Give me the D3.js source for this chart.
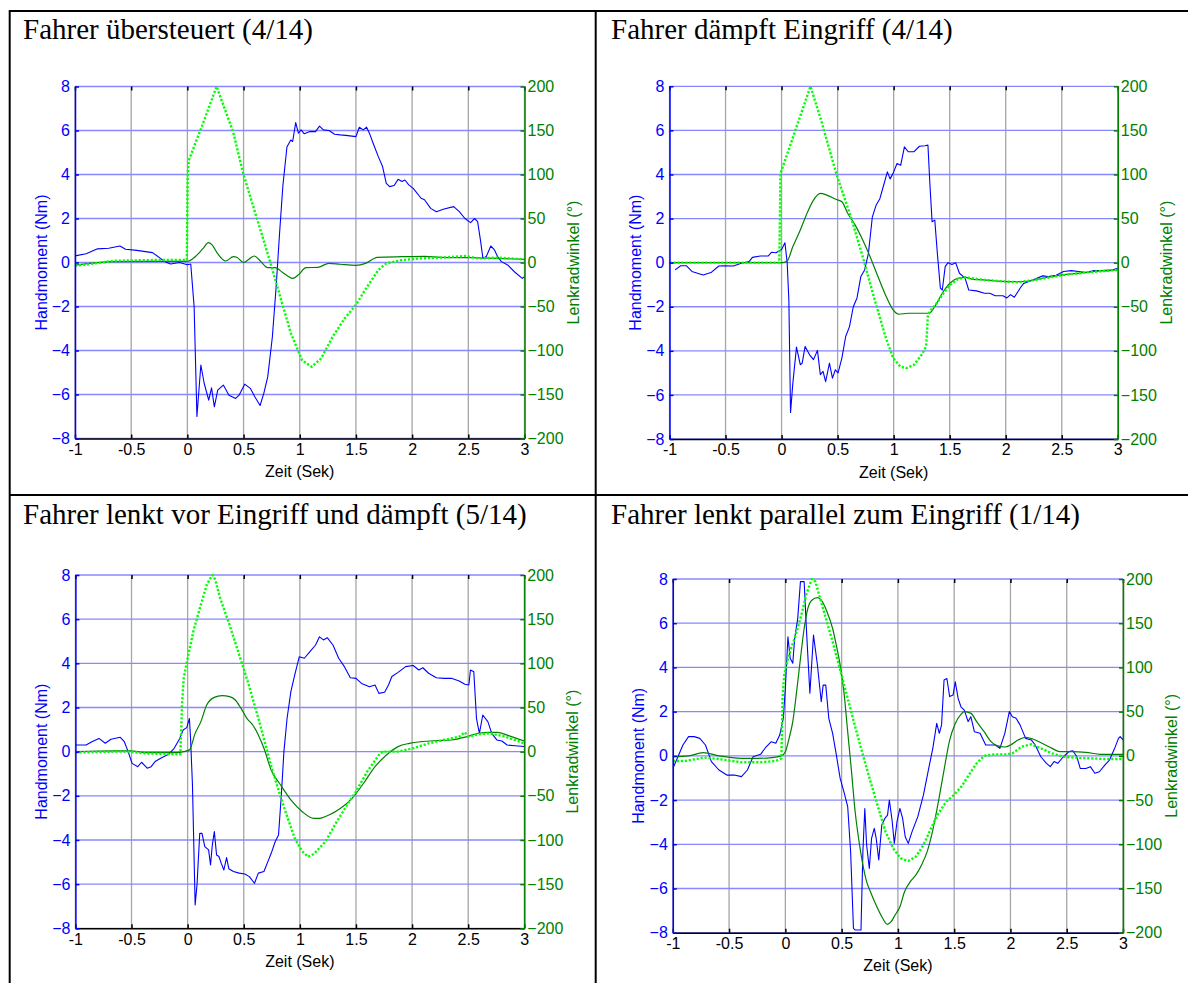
<!DOCTYPE html>
<html>
<head>
<meta charset="utf-8">
<script src="https://cdn.jsdelivr.net/npm/d3@7"></script>
<style>
  body { margin: 0; background: #fff; }
  svg { display: block; }
</style>
</head>
<body>
<svg id="chart" width="1188" height="983"></svg>
<script>
// ---- Texts and ticks -------------------------------------------------------
const titles = [
  "Fahrer übersteuert (4/14)",
  "Fahrer dämpft Eingriff (4/14)",
  "Fahrer lenkt vor Eingriff und dämpft (5/14)",
  "Fahrer lenkt parallel zum Eingriff (1/14)"
];
const xLabel = "Zeit (Sek)";
const leftLabel = "Handmoment (Nm)";
const rightLabel = "Lenkradwinkel (°)";
const timeTicks = [-1, -0.5, 0, 0.5, 1, 1.5, 2, 2.5, 3];
const timeTickLabels = ["-1", "-0.5", "0", "0.5", "1", "1.5", "2", "2.5", "3"];
const momentTicks = [-8, -6, -4, -2, 0, 2, 4, 6, 8];
const angleTicks = [-200, -150, -100, -50, 0, 50, 100, 150, 200];

// ---- Series: [time s, value] ----------------------------------------------
// Handmoment (Nm), Lenkradwinkel Fahrer (°), Lenkradwinkel Eingriff (°)
const p1Moment = [[-1,0.3],[-0.9,0.4],[-0.8,0.62],[-0.7,0.65],[-0.6,0.75],[-0.55,0.6],[-0.45,0.55],[-0.31,0.45],[-0.2,0.04],[-0.15,-0.07],[-0.07,0],[0,-0.1],[0.03,-0.07],[0.06,-2],[0.085,-7.0],[0.12,-4.66],[0.15,-5.5],[0.19,-6.26],[0.215,-5.7],[0.24,-6.56],[0.27,-5.8],[0.32,-5.57],[0.37,-6.03],[0.43,-6.18],[0.46,-6.03],[0.51,-5.53],[0.56,-5.72],[0.6,-6.1],[0.647,-6.5],[0.68,-5.95],[0.715,-5.2],[0.756,-3.4],[0.79,-1.1],[0.82,1.3],[0.85,3.5],[0.886,5.25],[0.92,5.57],[0.937,5.5],[0.964,6.36],[0.988,5.88],[1.012,6.03],[1.04,5.85],[1.09,5.95],[1.14,5.95],[1.176,6.2],[1.21,6.03],[1.26,6.0],[1.31,5.83],[1.36,5.8],[1.41,5.78],[1.5,5.72],[1.53,6.15],[1.565,6.03],[1.595,6.15],[1.62,5.88],[1.653,5.42],[1.70,4.8],[1.737,4.36],[1.77,3.6],[1.8,3.45],[1.84,3.5],[1.875,3.78],[1.91,3.68],[1.936,3.75],[1.97,3.53],[2.01,3.37],[2.08,2.92],[2.11,2.85],[2.165,2.46],[2.216,2.31],[2.284,2.43],[2.37,2.54],[2.42,2.31],[2.47,2.0],[2.52,1.81],[2.556,2.0],[2.583,1.86],[2.608,1.02],[2.63,0.19],[2.66,0.27],[2.7,0.75],[2.733,0.57],[2.76,0.27],[2.795,0.04],[2.85,-0.11],[2.91,-0.42],[2.98,-0.72],[3,-0.65]];
const p1Steer = [[-1,-3],[-0.65,1],[-0.31,1.3],[0,1.3],[0.07,6.6],[0.14,16],[0.187,22.5],[0.22,20],[0.27,10],[0.34,1.7],[0.41,6.6],[0.44,6],[0.5,0],[0.545,3.5],[0.596,7.4],[0.647,2],[0.715,-5.9],[0.783,-5.9],[0.85,-11.6],[0.937,-18],[0.988,-14],[1.056,-5.9],[1.16,-5.5],[1.26,-1],[1.36,-2],[1.5,-3.2],[1.585,-1],[1.69,5.9],[1.91,6.6],[2.11,7],[2.26,5.9],[2.49,5.5],[2.76,4.7],[3,3.6]];
const p1Command = [[-1,-3.6],[-0.82,-1],[-0.65,2],[-0.3,2.8],[-0.005,2.8],[0.003,100],[0.012,116],[0.127,154],[0.26,200],[0.408,148],[0.497,101],[0.614,52],[0.72,8],[0.817,-35],[0.92,-80],[1.02,-111],[1.107,-118.5],[1.19,-109],[1.295,-84],[1.397,-64],[1.5,-48],[1.6,-27.5],[1.70,-8.5],[1.77,-1],[1.91,2.8],[2.08,4.7],[2.25,5.5],[2.47,7.4],[2.59,4.7],[2.76,5.5],[3,3.6]];

const p2Moment = [[-0.95,-0.33],[-0.9,-0.14],[-0.85,-0.14],[-0.8,-0.4],[-0.7,-0.56],[-0.63,-0.45],[-0.56,-0.15],[-0.51,-0.14],[-0.43,-0.15],[-0.36,-0.03],[-0.29,0.05],[-0.26,0.24],[-0.19,0.3],[-0.12,0.3],[-0.09,0.47],[-0.05,0.45],[0,0.6],[0.03,0.9],[0.05,0],[0.065,-1.7],[0.08,-6.8],[0.1,-5.5],[0.133,-3.83],[0.167,-4.63],[0.184,-4.56],[0.21,-3.8],[0.25,-4.18],[0.285,-4.4],[0.32,-3.98],[0.346,-5.08],[0.37,-4.93],[0.393,-5.4],[0.427,-4.56],[0.454,-5.24],[0.48,-4.86],[0.504,-5.0],[0.538,-4.33],[0.572,-3.35],[0.606,-2.9],[0.64,-2.0],[0.673,-1.6],[0.707,-0.63],[0.741,-0.33],[0.775,0.42],[0.81,2.08],[0.843,2.6],[0.877,2.9],[0.91,3.5],[0.944,4.12],[0.968,3.8],[0.995,4.05],[1.03,4.5],[1.063,4.42],[1.096,5.25],[1.13,5.03],[1.18,5.03],[1.23,5.28],[1.28,5.3],[1.306,5.33],[1.323,3.6],[1.343,1.86],[1.367,1.93],[1.39,0.42],[1.417,-1.16],[1.434,-1.24],[1.46,-0.18],[1.485,0],[1.52,-0.08],[1.553,0],[1.587,-0.48],[1.637,-0.7],[1.67,-1.24],[1.74,-1.28],[1.81,-1.39],[1.857,-1.39],[1.907,-1.5],[1.975,-1.5],[2.01,-1.6],[2.043,-1.45],[2.077,-1.57],[2.128,-1.16],[2.16,-0.94],[2.246,-0.78],[2.33,-0.6],[2.38,-0.63],[2.45,-0.57],[2.516,-0.4],[2.584,-0.36],[2.65,-0.4],[2.72,-0.45],[2.787,-0.36],[2.855,-0.36],[2.92,-0.38],[3,-0.25]];
const p2Steer = [[-1,0],[0,0],[0.05,2],[0.1,18],[0.167,37],[0.217,53],[0.285,71],[0.346,78.5],[0.403,76.6],[0.488,71.7],[0.538,69],[0.59,56],[0.657,42.6],[0.724,25.7],[0.79,6.8],[0.86,-15.8],[0.927,-36.6],[0.995,-53.6],[1.046,-58.5],[1.13,-57.4],[1.23,-57.4],[1.316,-57.4],[1.367,-49.8],[1.434,-34.7],[1.502,-23.4],[1.57,-17.7],[1.637,-16.6],[1.71,-18.9],[1.806,-19.6],[1.908,-20.8],[2.01,-21.5],[2.11,-21.5],[2.21,-20.8],[2.314,-18],[2.45,-15],[2.585,-12.8],[2.72,-11],[2.855,-9],[3,-8.3]];
const p2Command = [[-1,0],[-0.02,0],[-0.01,101],[0.258,200],[0.353,161.5],[0.488,101],[0.623,50],[0.724,6.8],[0.826,-40],[0.927,-84],[0.995,-108],[1.06,-118],[1.113,-119.6],[1.18,-116],[1.25,-104.5],[1.29,-95],[1.306,-59],[1.333,-53.6],[1.384,-46],[1.434,-36.6],[1.502,-25.3],[1.57,-18.9],[1.637,-16.6],[1.806,-19.6],[2.01,-21.5],[2.11,-22.3],[2.314,-18.5],[2.518,-14],[2.72,-11],[3,-8.3]];

const p3Moment = [[-1,0.3],[-0.905,0.3],[-0.853,0.45],[-0.79,0.6],[-0.734,0.38],[-0.683,0.56],[-0.6,0.65],[-0.564,0.45],[-0.53,0],[-0.495,-0.53],[-0.444,-0.68],[-0.41,-0.48],[-0.36,-0.75],[-0.325,-0.68],[-0.29,-0.45],[-0.24,-0.3],[-0.17,-0.12],[-0.12,0.15],[-0.07,0.6],[-0.04,0.98],[-0.008,1.09],[0.016,1.5],[0.026,0.6],[0.043,-1.5],[0.067,-6.94],[0.084,-6.0],[0.108,-3.7],[0.128,-3.7],[0.153,-4.3],[0.187,-4.45],[0.204,-5.13],[0.22,-4.23],[0.238,-3.62],[0.258,-4.68],[0.279,-4.75],[0.299,-5.05],[0.323,-5.36],[0.347,-4.8],[0.367,-5.3],[0.408,-5.43],[0.46,-5.5],[0.51,-5.54],[0.55,-5.66],[0.596,-5.96],[0.63,-5.5],[0.68,-5.43],[0.715,-4.98],[0.75,-4.53],[0.78,-4.08],[0.81,-3.77],[0.835,-1.96],[0.858,0],[0.886,1.5],[0.92,2.72],[0.954,3.47],[0.995,4.3],[1.04,4.23],[1.09,4.53],[1.14,4.83],[1.175,5.2],[1.21,5.06],[1.244,5.16],[1.295,4.83],[1.346,4.23],[1.397,3.85],[1.45,3.35],[1.5,3.32],[1.55,3.09],[1.62,2.94],[1.67,3.02],[1.704,2.64],[1.755,2.69],[1.79,3.02],[1.82,3.4],[1.875,3.59],[1.943,3.85],[2.01,3.9],[2.06,3.7],[2.096,3.8],[2.147,3.55],[2.216,3.35],[2.284,3.32],[2.35,3.32],[2.42,3.2],[2.47,3.05],[2.506,3.02],[2.52,3.7],[2.55,3.62],[2.574,1.5],[2.6,0.83],[2.63,1.66],[2.675,1.36],[2.71,0.83],[2.755,0.53],[2.8,0.48],[2.847,0.3],[2.915,0.27],[3,0.23]];
const p3Steer = [[-1,0],[-0.65,1],[-0.51,1],[-0.375,-1],[-0.1,-1],[-0.035,0],[0.016,2],[0.067,20.7],[0.118,34],[0.17,52.8],[0.238,61.5],[0.306,63.4],[0.374,62.3],[0.425,58.5],[0.476,49],[0.528,37.7],[0.58,30.2],[0.63,18.9],[0.68,3.8],[0.75,-22.6],[0.818,-35.8],[0.92,-54.7],[1.022,-68],[1.124,-75.5],[1.175,-75.5],[1.26,-71.7],[1.363,-64],[1.465,-52.8],[1.568,-35.8],[1.67,-17],[1.772,-3.8],[1.875,5.7],[1.977,9.4],[2.08,11.3],[2.216,12.5],[2.35,13.2],[2.49,17],[2.59,20.8],[2.69,21.9],[2.76,21.9],[2.86,18.1],[3,12]];
const p3Command = [[-1,-1],[-0.65,0],[-0.51,0],[-0.375,-2],[-0.1,-3],[-0.065,-3],[-0.05,53],[-0.035,83],[0,105.7],[0.05,135.8],[0.1,158.5],[0.17,188.7],[0.2,196],[0.222,200],[0.245,195],[0.29,173.6],[0.374,143.4],[0.46,109.4],[0.545,75.5],[0.647,30.2],[0.75,-18.9],[0.852,-60.4],[0.954,-98],[1.022,-113],[1.073,-118.9],[1.124,-116],[1.227,-102],[1.33,-79],[1.43,-58.5],[1.5,-45.3],[1.6,-22.6],[1.704,-3.8],[1.738,0],[1.875,0],[2.01,3.8],[2.147,9.4],[2.284,13.2],[2.42,17],[2.47,21.9],[2.5,17],[2.59,19.6],[2.69,20.8],[2.83,17],[3,9.4]];

const p4Moment = [[-1,-0.57],[-0.96,-0.11],[-0.91,0.49],[-0.86,0.87],[-0.81,0.87],[-0.76,0.79],[-0.71,0.49],[-0.657,-0.26],[-0.59,-0.64],[-0.52,-0.87],[-0.455,-0.87],[-0.39,-0.94],[-0.337,-0.64],[-0.287,-0.04],[-0.22,0.07],[-0.17,0.41],[-0.125,0.64],[-0.085,0.57],[-0.05,0.94],[-0.018,1.7],[0,3.05],[0.023,5.39],[0.043,4.41],[0.066,4.19],[0.083,5.32],[0.11,6.22],[0.134,7.88],[0.167,7.88],[0.19,5.46],[0.218,2.83],[0.25,5.46],[0.285,4.11],[0.319,2.45],[0.336,3.2],[0.359,3.2],[0.386,1.7],[0.42,1.02],[0.453,0.04],[0.487,-1.02],[0.52,-1.62],[0.554,-2.3],[0.58,-4.34],[0.605,-7.8],[0.622,-7.88],[0.672,-7.88],[0.689,-4.34],[0.706,-2.38],[0.722,-4.03],[0.746,-5.09],[0.766,-3.73],[0.79,-3.28],[0.807,-3.73],[0.83,-4.71],[0.857,-3.13],[0.884,-2.83],[0.908,-2.68],[0.924,-2.0],[0.948,-2.9],[0.968,-3.96],[0.992,-2.98],[1.018,-2.38],[1.042,-2.83],[1.065,-3.66],[1.092,-3.96],[1.126,-3.43],[1.177,-2.75],[1.227,-1.77],[1.277,-0.49],[1.31,0.34],[1.345,1.47],[1.368,1.02],[1.388,1.4],[1.41,3.43],[1.435,3.5],[1.46,2.68],[1.49,2.75],[1.51,3.35],[1.535,2.6],[1.56,2.22],[1.59,2.07],[1.624,1.55],[1.648,1.77],[1.68,1.09],[1.73,1.02],[1.78,0.49],[1.83,0.49],[1.866,0.49],[1.906,0.34],[1.95,1.02],[1.99,2.0],[2.017,1.77],[2.05,1.7],[2.085,1.4],[2.135,0.79],[2.185,0.72],[2.22,0.49],[2.27,-0.04],[2.32,-0.34],[2.354,-0.49],[2.388,-0.26],[2.42,-0.34],[2.47,-0.04],[2.52,0.19],[2.555,0.23],[2.59,-0.04],[2.62,-0.57],[2.67,-0.57],[2.71,-0.49],[2.75,-0.79],[2.79,-0.72],[2.84,-0.41],[2.88,-0.19],[2.926,0.34],[2.96,0.79],[2.975,0.87],[3,0.72]];
const p4Steer = [[-1,-1],[-0.86,0],[-0.73,3.6],[-0.59,0],[-0.39,-2.8],[-0.25,-2.8],[-0.12,-2],[-0.035,0],[0,4.7],[0.033,19.8],[0.066,38.6],[0.1,72.6],[0.134,110],[0.167,144],[0.2,166.8],[0.235,176],[0.285,179],[0.32,176],[0.37,163],[0.42,144],[0.453,125],[0.487,102.7],[0.52,72.6],[0.554,27.3],[0.588,-17.9],[0.62,-63],[0.655,-97],[0.689,-123.4],[0.722,-142.3],[0.756,-153.6],[0.806,-168.7],[0.857,-181.9],[0.907,-190.6],[0.94,-187.6],[0.975,-180],[1.018,-170.6],[1.059,-153.6],[1.11,-142.3],[1.16,-134.7],[1.21,-123.4],[1.26,-108.3],[1.31,-83.9],[1.36,-51.8],[1.41,-16],[1.46,17.9],[1.51,36.7],[1.56,46.9],[1.59,50],[1.65,48],[1.7,38.6],[1.766,27.3],[1.83,15.8],[1.88,11.5],[1.95,10],[2.0,12.2],[2.067,17.9],[2.135,20.9],[2.2,19],[2.285,14],[2.37,8.5],[2.437,4.7],[2.54,4.7],[2.67,4],[2.8,1.7],[3,1.7]];
const p4Command = [[-1,-5.8],[-0.89,-5.8],[-0.72,-2],[-0.59,-3.6],[-0.39,-7.3],[-0.22,-7.3],[-0.085,-5.8],[-0.035,-2.8],[-0.025,65],[-0.01,91.4],[0.016,106.5],[0.05,121.6],[0.083,132.9],[0.117,148],[0.15,163],[0.184,181.9],[0.235,200],[0.268,197],[0.3,181.9],[0.352,159.2],[0.42,129],[0.487,97],[0.554,65],[0.62,33],[0.689,1],[0.756,-29],[0.823,-57.5],[0.89,-85.8],[0.958,-104.6],[1.025,-115.9],[1.092,-118.9],[1.16,-114],[1.227,-100.8],[1.294,-82],[1.36,-65],[1.43,-51.8],[1.496,-44.3],[1.563,-35],[1.63,-21.7],[1.7,-8.5],[1.766,0],[1.866,1.7],[1.967,1.7],[2.017,2.8],[2.1,10.4],[2.185,13],[2.27,8.5],[2.37,2.8],[2.47,-1],[2.57,-2],[2.71,-2.8],[2.84,-3.6],[3,-3.6]];

const panelSeries = [
  { moment: p1Moment, steer: p1Steer, command: p1Command },
  { moment: p2Moment, steer: p2Steer, command: p2Command },
  { moment: p3Moment, steer: p3Steer, command: p3Command },
  { moment: p4Moment, steer: p4Steer, command: p4Command }
];

// ---- Layout ----------------------------------------------------------------
const panelBoxes = [
  { x0: 75,    x1: 524.5,  y0: 86.5,  y1: 438.5, tx: 23,  ty: 39 },
  { x0: 669.5, x1: 1117.8, y0: 86.3,  y1: 439,   tx: 611, ty: 39 },
  { x0: 75.4,  x1: 524.3,  y0: 575,   y1: 928.3, tx: 23,  ty: 524 },
  { x0: 672.8, x1: 1123,   y0: 579,   y1: 932.7, tx: 611, ty: 524 }
];

const BLUE = "#0000ff";
const DARK_GREEN = "#008000";
const BRIGHT_GREEN = "#00ff00";
const SANS = "'Liberation Sans', Arial, Helvetica, sans-serif";
const SERIF = "'Liberation Serif', 'Times New Roman', serif";

const svg = d3.select("#chart");

// table frame around the four panels
const frame = svg.append("g").attr("stroke", "#000").attr("stroke-width", 2);
frame.append("line").attr("x1", 9.7).attr("x2", 1188).attr("y1", 11).attr("y2", 11);
frame.append("line").attr("x1", 9.7).attr("x2", 9.7).attr("y1", 10).attr("y2", 983);
frame.append("line").attr("x1", 595.7).attr("x2", 595.7).attr("y1", 10).attr("y2", 983);
frame.append("line").attr("x1", 9.7).attr("x2", 1188).attr("y1", 495).attr("y2", 495);

panelBoxes.forEach((b, i) => {
  const s = panelSeries[i];
  const g = svg.append("g");

  const x = d3.scaleLinear().domain([-1, 3]).range([b.x0, b.x1]);
  const yL = d3.scaleLinear().domain([-8, 8]).range([b.y1, b.y0]);
  const yR = d3.scaleLinear().domain([-200, 200]).range([b.y1, b.y0]);

  // title
  g.append("text")
    .attr("x", b.tx).attr("y", b.ty)
    .attr("font-family", SERIF).attr("font-size", 29)
    .attr("fill", "#000")
    .text(titles[i]);

  // grid
  g.append("g").selectAll("line").data(timeTicks).join("line")
    .attr("x1", d => x(d)).attr("x2", d => x(d))
    .attr("y1", b.y0).attr("y2", b.y1)
    .attr("stroke", "#a6a6a6").attr("stroke-width", 1.3);
  g.append("g").selectAll("line").data(momentTicks).join("line")
    .attr("x1", b.x0).attr("x2", b.x1)
    .attr("y1", d => yL(d)).attr("y2", d => yL(d))
    .attr("stroke", "#8888ff").attr("stroke-width", 1.3);

  // curves, clipped to the plot area
  const clipId = "clip" + i;
  svg.append("clipPath").attr("id", clipId).append("rect")
    .attr("x", b.x0).attr("y", b.y0 - 1)
    .attr("width", b.x1 - b.x0).attr("height", b.y1 - b.y0 + 2);
  const plot = g.append("g").attr("clip-path", `url(#${clipId})`);

  const momentLine = d3.line().x(d => x(d[0])).y(d => yL(d[1]));
  const angleLine = d3.line().x(d => x(d[0])).y(d => yR(d[1])).curve(d3.curveMonotoneX);
  const commandLine = d3.line().x(d => x(d[0])).y(d => yR(d[1]));

  plot.append("path").datum(s.moment).attr("d", momentLine)
    .attr("fill", "none").attr("stroke", BLUE).attr("stroke-width", 1.1)
    .attr("stroke-linejoin", "round");
  plot.append("path").datum(s.steer).attr("d", angleLine)
    .attr("fill", "none").attr("stroke", DARK_GREEN).attr("stroke-width", 1.2);
  plot.append("path").datum(s.command).attr("d", commandLine)
    .attr("fill", "none").attr("stroke", BRIGHT_GREEN).attr("stroke-width", 2.4)
    .attr("stroke-dasharray", "2.2,1.8");

  // axes
  const bottom = g.append("g").attr("transform", `translate(0,${b.y1})`)
    .call(d3.axisBottom(x).tickValues(timeTicks)
      .tickFormat((d, k) => timeTickLabels[k])
      .tickSizeInner(-4).tickSizeOuter(0).tickPadding(5));
  const top = g.append("g").attr("transform", `translate(0,${b.y0})`)
    .call(d3.axisTop(x).tickValues(timeTicks).tickFormat("")
      .tickSizeInner(-4).tickSizeOuter(0));
  top.select(".domain").remove();
  const left = g.append("g").attr("transform", `translate(${b.x0},0)`)
    .call(d3.axisLeft(yL).tickValues(momentTicks).tickFormat(d3.format("d"))
      .tickSizeInner(-4).tickSizeOuter(0).tickPadding(5));
  const right = g.append("g").attr("transform", `translate(${b.x1},0)`)
    .call(d3.axisRight(yR).tickValues(angleTicks).tickFormat(d3.format("d"))
      .tickSizeInner(-4).tickSizeOuter(0).tickPadding(3));

  [bottom, top, left, right].forEach(a => {
    a.attr("font-family", SANS).attr("font-size", 16);
  });
  bottom.selectAll("line, path").attr("stroke", "#000").attr("stroke-width", 1.5);
  bottom.selectAll("text").attr("fill", "#000");
  top.selectAll("line").attr("stroke", "#000").attr("stroke-width", 1.5);
  left.selectAll("line, path").attr("stroke", BLUE).attr("stroke-width", 1.5);
  left.selectAll("text").attr("fill", BLUE);
  right.selectAll("line, path").attr("stroke", DARK_GREEN).attr("stroke-width", 1.5);
  right.selectAll("text").attr("fill", DARK_GREEN);

  // axis titles
  const cy = (b.y0 + b.y1) / 2;
  g.append("text")
    .attr("transform", `translate(${b.x0 - 28.5},${cy}) rotate(-90)`)
    .attr("text-anchor", "middle")
    .attr("font-family", SANS).attr("font-size", 16).attr("fill", BLUE)
    .text(leftLabel);
  g.append("text")
    .attr("transform", `translate(${b.x1 + 54},${cy}) rotate(-90)`)
    .attr("text-anchor", "middle")
    .attr("font-family", SANS).attr("font-size", 16).attr("fill", DARK_GREEN)
    .text(rightLabel);
  g.append("text")
    .attr("x", (b.x0 + b.x1) / 2).attr("y", b.y1 + 38.5)
    .attr("text-anchor", "middle")
    .attr("font-family", SANS).attr("font-size", 16).attr("fill", "#000")
    .text(xLabel);
});
</script>
</body>
</html>
